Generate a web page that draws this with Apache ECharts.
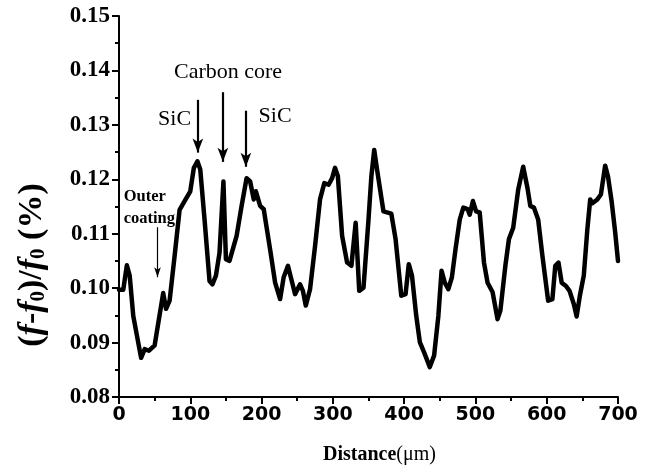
<!DOCTYPE html>
<html>
<head>
<meta charset="utf-8">
<script src="https://cdn.jsdelivr.net/npm/echarts@6/dist/echarts.min.js"></script>
<style>
  html, body { margin: 0; padding: 0; background: #fff; }
  #chart { width: 649px; height: 470px; }
</style>
</head>
<body>
<div id="chart"></div>
<script>
// distance along the fibre cross-section (um)
const distance = [0, 6, 11, 15, 20, 31, 36, 42, 50, 56, 62, 66, 71, 78, 85, 92, 100, 105, 110, 114,
  120, 127, 131, 136, 141, 146.5, 150, 155, 165, 172, 179, 184, 189, 192, 198, 203, 212, 219, 226, 231,
  237, 243, 247, 254, 258, 262, 268, 275, 282, 288, 294, 299, 303, 307, 313, 320, 326, 332, 337, 343,
  350, 354, 358, 362, 367, 371, 382, 388, 396, 402, 406.5, 411, 417, 422, 428, 436, 442, 448, 452.5, 457,
  462, 467, 472, 478, 483, 489, 492, 496.5, 501, 506, 512, 517, 524, 531, 535, 542, 547, 553, 560, 567,
  573, 577, 582, 588, 594, 602, 608, 612, 616.5, 621, 627, 632, 638, 642, 646.5, 652, 657, 661, 664, 671,
  676, 682, 686, 691, 696, 700];
// relative frequency shift (f-f0)/f0 (%)
const shift = [0.0997, 0.0997, 0.1042, 0.1023, 0.0949, 0.0872, 0.0888, 0.0885, 0.0895, 0.0943, 0.0991, 0.0962, 0.0977, 0.1059, 0.1144, 0.1160, 0.1178, 0.1221, 0.1233, 0.1218,
  0.1126, 0.1013, 0.1007, 0.1023, 0.1065, 0.1196, 0.1053, 0.1050, 0.1096, 0.1151, 0.1202, 0.1196, 0.1163, 0.1178, 0.1151, 0.1145, 0.1071, 0.1010, 0.0980, 0.1020,
  0.1041, 0.1010, 0.0989, 0.1007, 0.0995, 0.0968, 0.0998, 0.1077, 0.1163, 0.1193, 0.1190, 0.1202, 0.1221, 0.1206, 0.1096, 0.1047, 0.1041, 0.1120, 0.0995, 0.1001,
  0.1126, 0.1205, 0.1254, 0.1218, 0.1175, 0.1141, 0.1137, 0.1090, 0.0986, 0.0989, 0.1044, 0.1023, 0.0949, 0.0901, 0.0882, 0.0855, 0.0876, 0.0949, 0.1032, 0.1010,
  0.0998, 0.1020, 0.1071, 0.1126, 0.1148, 0.1145, 0.1135, 0.1160, 0.1141, 0.1139, 0.1047, 0.1010, 0.0993, 0.0943, 0.0959, 0.1041, 0.1090, 0.1111, 0.1181, 0.1223,
  0.1184, 0.1151, 0.1148, 0.1126, 0.1059, 0.0977, 0.0980, 0.1041, 0.1047, 0.1010, 0.1004, 0.0995, 0.0971, 0.0948, 0.0986, 0.1023, 0.1108, 0.1163, 0.1156, 0.1163,
  0.1172, 0.1225, 0.1205, 0.1160, 0.1103, 0.1050];

// annotation arrows: [x, yTop, yTip]
const arrowX = [110.6, 145.7, 178, 54];
const arrowTop = [0.1346, 0.1360, 0.1326, 0.1112];
const arrowTip = [0.1249, 0.1232, 0.1223, 0.1020];
// annotation labels
const noteText = ['Carbon core', 'SiC', 'SiC', 'Outer', 'coating'];
const noteX = [153, 78, 219, 6.5, 6.5];
const noteY = [0.1397, 0.1311, 0.1315, 0.1168, 0.1128];

const serif = '"Liberation Serif", "Times New Roman", serif';

let arrowData = arrowX.map((x, i) => {
  let thin = i === 3;
  return [
    { coord: [x, arrowTop[i]], symbol: 'none' },
    { coord: [x, arrowTip[i]], symbol: 'arrow', symbolSize: thin ? [5, 10] : [8, 14],
      lineStyle: { width: thin ? 1.2 : 2.2, color: '#000', type: 'solid' } }
  ];
});

let notes = noteText.map((t, i) => {
  let small = i >= 3;
  return {
    value: [noteX[i], noteY[i]],
    label: {
      formatter: t,
      fontFamily: serif,
      fontSize: small ? 16.5 : 22,
      fontWeight: small ? 'bold' : 'normal',
      align: small ? 'left' : 'center',
      color: '#000',
      textBorderWidth: 0,
      opacity: 1
    }
  };
});

let chart = echarts.init(document.getElementById('chart'));
chart.setOption({
  backgroundColor: '#fff',
  animation: false,
  grid: { left: 119, right: 31, top: 16, bottom: 72 },
  xAxis: {
    type: 'value', min: 0, max: 700, interval: 100,
    name: '{b|Distance}{r|(\u03bcm)}',
    nameLocation: 'middle', nameGap: 48,
    nameTextStyle: {
      padding: [0, 0, 0, 22],
      rich: {
        b: { fontFamily: serif, fontSize: 20, fontWeight: 'bold', color: '#000' },
        r: { fontFamily: serif, fontSize: 20, fontWeight: 'normal', color: '#000' }
      }
    },
    axisLine: { lineStyle: { color: '#000', width: 2 } },
    axisTick: { length: 7, lineStyle: { color: '#000', width: 2 } },
    minorTick: { show: true, splitNumber: 2, length: 4, lineStyle: { color: '#000', width: 2 } },
    splitLine: { show: false },
    axisLabel: { fontFamily: '"DejaVu Sans", sans-serif', fontWeight: 'bold', fontSize: 19, color: '#000', margin: 9 }
  },
  yAxis: {
    type: 'value', min: 0.08, max: 0.15, interval: 0.01,
    axisLine: { show: true, lineStyle: { color: '#000', width: 2 } },
    axisTick: { show: true, length: 7, lineStyle: { color: '#000', width: 2 } },
    minorTick: { show: true, splitNumber: 2, length: 4, lineStyle: { color: '#000', width: 2 } },
    splitLine: { show: false },
    axisLabel: {
      fontFamily: serif, fontWeight: 'bold', fontSize: 23, color: '#000', margin: 9,
      formatter: v => v.toFixed(2)
    }
  },
  graphic: [{
    type: 'text',
    x: 32, y: 265,
    rotation: Math.PI / 2,
    style: {
      text: '{b|(}{i|f}{b|-}{i|f}{s|0}{b|)/}{i|f}{s|0}{b| (%)}',
      align: 'center', verticalAlign: 'middle',
      rich: {
        b: { fontFamily: serif, fontSize: 34, fontWeight: 'bold', fill: '#000' },
        i: { fontFamily: serif, fontSize: 34, fontWeight: 'bold', fontStyle: 'italic', fill: '#000' },
        s: { fontFamily: serif, fontSize: 21, fontWeight: 'bold', fill: '#000', padding: [14, 0, 0, 0] }
      }
    }
  }],
  series: [{
    type: 'line',
    data: distance.map((d, i) => [d, shift[i]]),
    showSymbol: false,
    lineStyle: { color: '#000', width: 4.5, join: 'round', cap: 'round' },
    markLine: {
      silent: true,
      label: { show: false },
      lineStyle: { color: '#000', type: 'solid' },
      data: arrowData
    }
  }, {
    type: 'scatter',
    symbolSize: 0,
    silent: true,
    itemStyle: { opacity: 1, color: '#000' },
    data: notes,
    label: { show: true, position: 'inside', color: '#000', textBorderWidth: 0 }
  }]
});
</script>
</body>
</html>
